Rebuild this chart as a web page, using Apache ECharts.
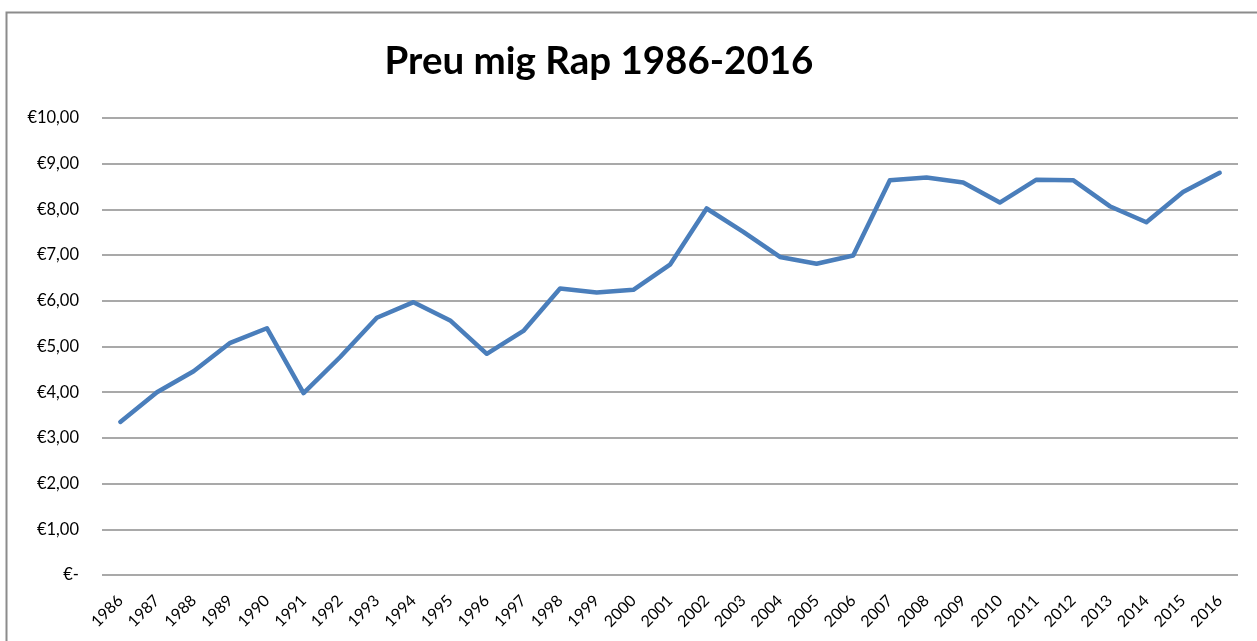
<!DOCTYPE html>
<html>
<head>
<meta charset="utf-8">
<script src="https://cdn.jsdelivr.net/npm/echarts@6/dist/echarts.min.js"></script>
<style>
  html, body { margin: 0; padding: 0; background: #fff; }
  #chart { width: 1257px; height: 641px; }
</style>
</head>
<body>
<div id="chart"></div>
<script>
// dades llegides del gràfic
var years = ['1986','1987','1988','1989','1990','1991','1992','1993','1994','1995','1996',
  '1997','1998','1999','2000','2001','2002','2003','2004','2005','2006',
  '2007','2008','2009','2010','2011','2012','2013','2014','2015','2016'];
var prices = [3.35, 4.00, 4.46, 5.08, 5.40, 3.98, 4.77, 5.63, 5.97, 5.57, 4.84,
  5.34, 6.27, 6.18, 6.24, 6.79, 8.02, 7.51, 6.96, 6.81, 6.99,
  8.64, 8.70, 8.59, 8.15, 8.65, 8.64, 8.07, 7.72, 8.38, 8.80];

var myChart = echarts.init(document.getElementById('chart'));

var fmtEuro = function (v) {
    if (v === 0) return '€-';
    return '€' + v.toFixed(2).replace('.', ',');
};

var option = {
    animation: false,
    backgroundColor: '#fff',
    title: {
        text: 'Preu mig Rap 1986-2016',
        left: 594,
        top: 37,
        textAlign: 'center',
        textStyle: {
            fontFamily: 'Lato',
            fontWeight: 'bold',
            fontSize: 38.5,
            color: '#000'
        }
    },
    graphic: [{
        type: 'rect',
        shape: { x: 6.5, y: 12.5, width: 1260, height: 640 },
        style: { fill: null, stroke: '#8c8c8c', lineWidth: 2 },
        silent: true
    }],
    grid: { left: 102, right: 19, top: 118, bottom: 66 },
    xAxis: {
        type: 'category',
        data: years,
        boundaryGap: true,
        axisLine: { show: false },
        axisTick: { show: false },
        axisLabel: {
            rotate: 45,
            interval: 0,
            margin: 23,
            fontFamily: 'Lato',
            fontSize: 16,
            color: '#000'
        }
    },
    yAxis: {
        type: 'value',
        min: 0,
        max: 10,
        interval: 1,
        axisLine: { show: false },
        axisTick: { show: false },
        splitLine: { lineStyle: { color: '#8c8c8c', width: 1.5 } },
        axisLabel: {
            margin: 23,
            fontFamily: 'Lato',
            fontSize: 16.5,
            color: '#000',
            formatter: fmtEuro
        }
    },
    series: [{
        name: 'Preu mig',
        type: 'line',
        data: prices,
        symbol: 'none',
        lineStyle: { color: '#4a7ebb', width: 4.5, cap: 'round', join: 'round' }
    }]
};

myChart.setOption(option);
</script>
</body>
</html>
